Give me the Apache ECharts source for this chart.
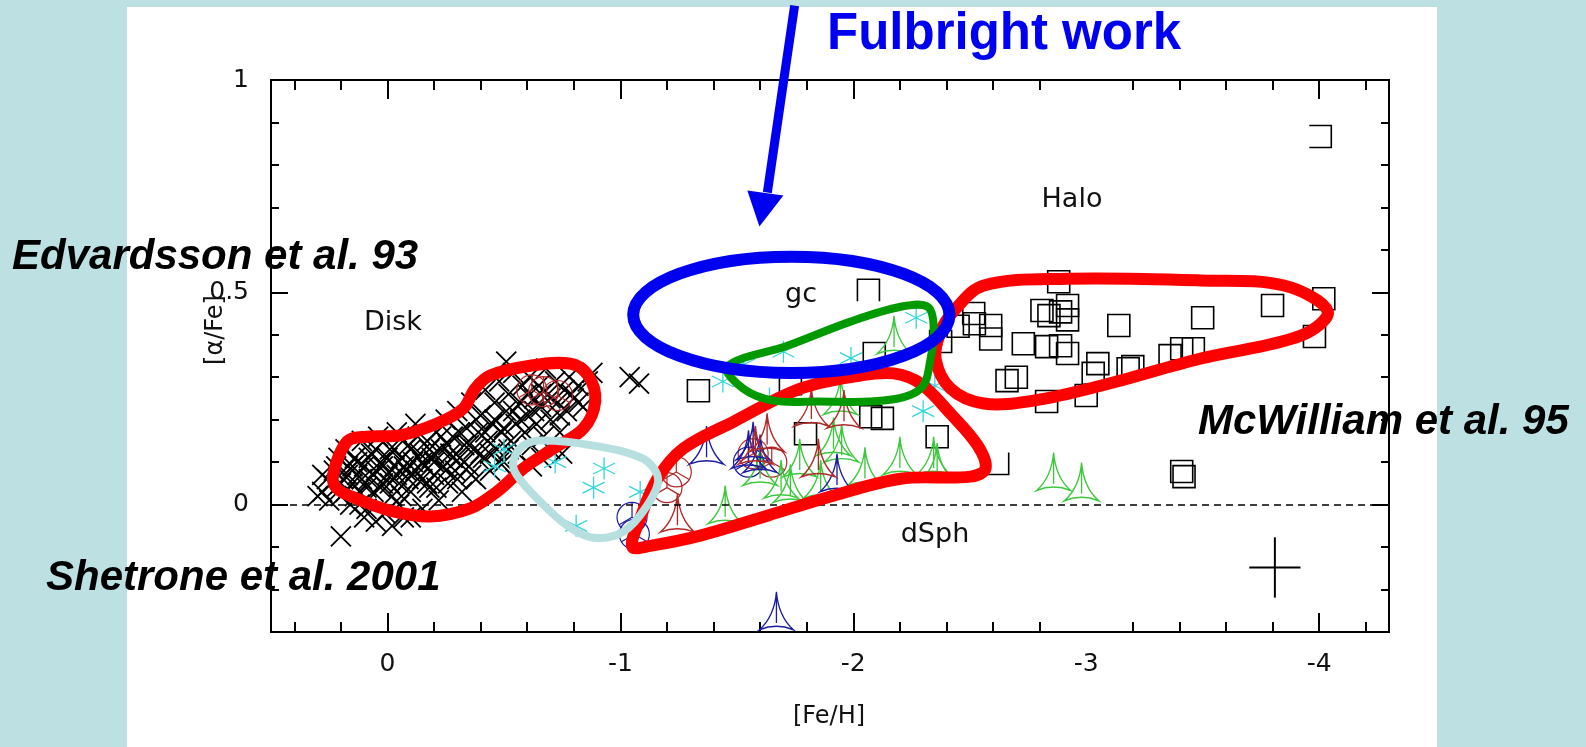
<!DOCTYPE html>
<html>
<head>
<meta charset="utf-8">
<title>[α/Fe] vs [Fe/H]</title>
<script src="https://cdn.jsdelivr.net/npm/echarts@6/dist/echarts.min.js"></script>
<style>
html, body { margin: 0; padding: 0; background: #bde0e2; }
#main { width: 1586px; height: 747px; }
</style>
</head>
<body>
<div id="main"></div>
<script>
// axis ticks and labels
var xLabels = [0, -1, -2, -3, -4];
var xMajorTicks = [0, -1, -2, -4];          // the original has no tick at -3
var xMinorTicks = [0.4, 0.2, -0.2, -0.4, -0.6, -0.8, -1.2, -1.4, -1.6, -1.8,
    -2.2, -2.4, -2.6, -2.8, -3.2, -3.4, -3.6, -3.8, -4.2];
var yLabels = [1, 0.5, 0];
var yMajorTicks = [1, 0.5, 0];
var yMinorTicks = [0.9, 0.8, 0.7, 0.6, 0.4, 0.3, 0.2, 0.1, -0.1, -0.2];

// disk stars (black crosses)
var diskStars = [
    [0.28,0.03],[0.26,0.06],[0.25,0.01],[0.23,0.08],[0.22,0.04],[0.21,0.11],[0.2,0.02],[0.19,0.06],
    [0.18,0.13],[0.17,0.09],[0.16,0.0],[0.15,0.05],[0.14,0.11],[0.13,0.07],[0.12,0.03],[0.11,0.15],
    [0.1,0.09],[0.09,-0.01],[0.08,0.06],[0.07,0.12],[0.06,0.03],[0.05,0.08],[0.04,0.16],[0.03,0.1],
    [0.02,0.05],[0.01,-0.02],[0.0,0.07],[-0.01,0.13],[-0.02,0.02],[-0.03,0.09],[-0.04,0.17],[-0.05,0.05],
    [-0.06,0.11],[-0.07,-0.03],[-0.08,0.08],[-0.09,0.14],[-0.1,0.03],[-0.11,0.1],[-0.12,0.19],[-0.13,0.06],
    [-0.14,0.12],[-0.15,-0.01],[-0.16,0.09],[-0.17,0.15],[-0.18,0.04],[-0.19,0.11],[-0.2,0.07],[-0.21,0.17],
    [-0.22,0.01],[-0.23,0.13],[-0.24,0.09],[-0.25,0.2],[-0.26,0.05],[-0.27,0.12],[-0.28,0.16],[-0.29,0.08],
    [-0.3,0.22],[-0.31,0.11],[-0.32,0.03],[-0.33,0.14],[-0.34,0.18],[-0.35,0.09],[-0.36,0.24],[-0.37,0.13],
    [-0.38,0.06],[-0.39,0.17],[-0.4,0.21],[-0.41,0.11],[-0.42,0.27],[-0.43,0.15],[-0.44,0.08],[-0.45,0.19],
    [-0.46,0.24],[-0.47,0.13],[-0.48,0.29],[-0.49,0.17],[-0.5,0.1],[-0.51,0.22],[-0.52,0.26],[-0.53,0.15],
    [-0.54,0.31],[-0.55,0.19],[-0.56,0.12],[-0.57,0.24],[-0.58,0.28],[-0.59,0.17],[-0.6,0.21],[-0.61,0.3],
    [-0.62,0.14],[-0.63,0.25],[-0.64,0.19],[-0.65,0.28],[-0.66,0.23],[-0.67,0.16],[-0.68,0.32],[-0.69,0.26],
    [-0.7,0.2],[-0.72,0.29],[-0.73,0.24],[-0.74,0.17],[-0.76,0.27],[-0.77,0.22],[-0.78,0.3],[-0.8,0.25],
    [-0.82,0.28],[-0.84,0.23],[-0.86,0.29],[-0.7,0.13],[-0.62,0.09],[-0.55,0.06],[-0.75,0.12],[-0.66,0.11],
    [0.2,-0.075],[-0.51,0.337],[-0.88,0.31],[-1.04,0.3],[-1.08,0.285],[0.05,-0.04],[-0.02,-0.05],
    [-0.1,-0.03],[0.1,-0.03],[0.3,0.02],[0.28,0.07],[0.12,0.0],[-0.05,0.0],[-0.2,0.12],[-0.15,0.06],
    [0.24,0.05],[0.22,0.09],[0.2,0.05],[0.18,0.03],[0.17,0.07],[0.15,0.09],[0.14,0.02],[0.13,0.1],
    [0.11,0.06],[0.09,0.04],[0.08,0.11],[0.06,0.07],[0.05,0.13],[0.03,0.04],[0.02,0.09],[0.0,0.11],
    [-0.01,0.05],[-0.03,0.13],[-0.04,0.07],[-0.06,0.02],[-0.07,0.09],[-0.09,0.06],[-0.1,0.13],[-0.12,0.08],
    [-0.13,0.16],[-0.15,0.1],[-0.17,0.05],[-0.18,0.13],[-0.2,0.1],[-0.21,0.04],[-0.23,0.16],[-0.25,0.08],
    [-0.26,0.14],[-0.28,0.11],[-0.3,0.06],[-0.31,0.17],[-0.33,0.1],[-0.35,0.14],[-0.36,0.07],[-0.38,0.2],
    [-0.4,0.12],[-0.42,0.17],[-0.44,0.12],[-0.46,0.2],[-0.48,0.1],[-0.5,0.18],[-0.52,0.13],[-0.54,0.22],
    [-0.57,0.2],[-0.6,0.26],[-0.63,0.22],[-0.66,0.26],[-0.7,0.25],[-0.74,0.21],[-0.79,0.26],[-0.82,0.24]
];

// halo giants (open squares)
var haloStars = [
    [-2.882,0.525],[-2.517,0.45],[-2.52,0.426],[-2.59,0.422],[-2.59,0.39],[-2.81,0.457],[-2.84,0.445],
    [-2.89,0.454],[-2.92,0.469],[-2.92,0.435],[-2.73,0.379],[-2.83,0.372],[-2.89,0.374],[-2.92,0.356],
    [-3.05,0.332],[-3.03,0.309],[-3.18,0.32],[-3.2,0.325],[-3.36,0.351],[-3.41,0.367],[-3.46,0.367],
    [-3.14,0.422],[-3.5,0.44],[-3.8,0.469],[-4.02,0.485],[-3.98,0.396],[-2.66,0.292],[-2.7,0.3],
    [-2.83,0.243],[-3.0,0.257],[-3.41,0.078],[-3.42,0.066],[-2.36,0.16],[-1.335,0.268],[-1.73,0.285],
    [-2.09,0.356],[-2.075,0.207],[-2.125,0.203],[-1.795,0.167],[-2.375,0.384],[-2.45,0.42]
];
var haloCapped = [[-2.065,0.505]];
var haloRightOpen = [[-4.005,0.867]];
var haloCorner = [[-2.62,0.097]];

// globular cluster / other stars (cyan asterisks)
var clusterStars = [
    [-0.46,0.09],[-0.5,0.13],[-0.72,0.1],[-0.93,0.085],[-0.885,0.04],[-0.81,-0.05],[-1.085,0.03],
    [-1.44,0.29],[-1.64,0.25],[-1.7,0.36],[-1.99,0.345],[-2.27,0.44],[-2.35,0.28],[-2.3,0.22],[-1.53,0.33]
];

// dSph stars
var dsphGreen = [
    [-2.175,0.40],[-1.945,0.257],[-1.915,0.16],[-1.95,0.145],[-2.2,0.115],[-2.345,0.115],[-2.36,0.1],
    [-1.86,0.06],[-1.77,0.11],[-1.73,0.05],[-1.45,0.0],[-1.69,0.06],[-2.86,0.078],[-2.98,0.054],
    [-2.05,0.09],[-1.6,0.09]
];
var dsphBlue = [[-1.37,0.14],[-1.57,0.15],[-1.55,0.13],[-1.93,0.075],[-1.67,-0.25],[-1.6,0.12]];
var dsphRed = [[-1.245,-0.02],[-1.58,0.14],[-1.96,0.225],[-1.82,0.23],[-1.63,0.17],[-1.85,0.11]];
var redCircles = [[-0.67,0.266],[-0.73,0.257],[-0.62,0.27],[-1.24,0.077],[-1.57,0.12],[-1.65,0.1],[-1.2,0.04]];
var blueCircles = [[-1.06,-0.07],[-1.55,0.1],[-1.05,-0.03]];

// typical error: [Fe/H], [a/Fe], error in [Fe/H], error in [a/Fe]
var errorBars = [[-3.81, -0.148, 0.11, 0.071]];

// hand-drawn outlines
var edvardssonOutline = [[0.234,0.068],[0.174,0.148],[0.088,0.16],[-0.054,0.163],[-0.213,0.191],
    [-0.325,0.226],[-0.376,0.273],[-0.441,0.304],[-0.613,0.327],[-0.785,0.332],[-0.862,0.304],
    [-0.892,0.243],[-0.841,0.179],[-0.712,0.132],[-0.583,0.085],[-0.471,0.031],[-0.355,-0.009],
    [-0.183,-0.028],[-0.011,-0.014],[0.131,0.014],[0.217,0.038]];
var shetroneOutline = [[-0.54,0.101],[-0.583,0.139],[-0.668,0.151],[-0.883,0.139],[-1.098,0.108],
    [-1.162,0.061],[-1.115,-0.002],[-1.012,-0.064],[-0.883,-0.078],[-0.771,-0.049],[-0.656,0.007],
    [-0.557,0.068]];
var dsphOutline = [[-1.051,-0.099],[-1.085,-0.033],[-1.159,0.061],[-1.27,0.132],[-1.485,0.195],
    [-1.773,0.273],[-2.031,0.304],[-2.173,0.309],[-2.289,0.285],[-2.418,0.214],[-2.534,0.139],
    [-2.568,0.085],[-2.504,0.066],[-2.203,0.061],[-1.914,0.021],[-1.631,-0.026],[-1.343,-0.073],
    [-1.128,-0.097]];
var haloOutline = [[-2.43,0.455],[-2.56,0.516],[-2.921,0.532],[-3.492,0.528],[-3.849,0.516],
    [-4.037,0.455],[-3.922,0.398],[-3.492,0.344],[-3.062,0.28],[-2.774,0.245],[-2.56,0.238],
    [-2.418,0.273],[-2.353,0.344],[-2.375,0.407]];
var gcOutline = [[-1.459,0.325],[-1.717,0.374],[-1.988,0.431],[-2.203,0.466],[-2.319,0.466],
    [-2.345,0.422],[-2.332,0.344],[-2.289,0.273],[-2.13,0.245],[-1.846,0.243],[-1.657,0.245],
    [-1.528,0.273]];
var fulbrightCenter = [-1.734, 0.447];
var fulbrightRadius = [0.679, 0.137];
var arrowShaft = [[-1.748, 1.175], [-1.631, 0.735]];
var arrowHead = [[-1.545, 0.74], [-1.597, 0.655], [-1.70, 0.728]];

var FONT = 'DejaVu Sans';

var crossPath = 'path://M0,0L10,10M10,0L0,10';
var asteriskPath = 'path://M5,0L5,10M0.7,2.5L9.3,7.5M0.7,7.5L9.3,2.5';
var triPath = 'path://M5,0Q5.6,6.5 10,10Q5,8.2 0,10Q4.4,6.5 5,0ZM5,0L5,8.2';
var spokePath = 'path://M0,5A5,5 0 1,1 10,5A5,5 0 1,1 0,5ZM5,5L5,0M5,5L0.7,7.5M5,5L9.3,7.5';

function xAxisCfg(pos, ticks, len, labels) {
    return {
        type: 'value', position: pos, min: -4.3, max: 0.5, inverse: true,
        splitLine: { show: false },
        axisLine: { show: true, onZero: false, lineStyle: { color: '#000', width: 2 } },
        axisTick: { show: true, inside: true, length: len, customValues: ticks,
            lineStyle: { color: '#000', width: 2 } },
        axisLabel: labels ? { show: true, customValues: labels, margin: 20,
            fontFamily: FONT, fontSize: 25, color: '#111' } : { show: false }
    };
}
function yAxisCfg(pos, ticks, len, labels) {
    return {
        type: 'value', position: pos, min: -0.3, max: 1,
        splitLine: { show: false },
        axisLine: { show: true, onZero: false, lineStyle: { color: '#000', width: 2 } },
        axisTick: { show: true, inside: true, length: len, customValues: ticks,
            lineStyle: { color: '#000', width: 2 } },
        axisLabel: labels ? { show: true, customValues: labels, margin: 22,
            fontFamily: FONT, fontSize: 25, color: '#111' } : { show: false }
    };
}

function scatter(data, symbol, size, color, width) {
    return {
        type: 'scatter', data: data, symbol: symbol, symbolSize: size, z: 2,
        itemStyle: { color: 'none', borderColor: color, borderWidth: width, opacity: 1 }
    };
}

function outline(points, color, width) {
    return {
        type: 'custom', data: [points[0]], z: 5, silent: true,
        renderItem: function (params, api) {
            return {
                type: 'polygon',
                shape: { points: points.map(function (p) { return api.coord(p); }), smooth: 0.35 },
                style: { fill: 'none', stroke: color, lineWidth: width }
            };
        }
    };
}

var zeroLine = scatter(diskStars, crossPath, 20, '#000', 1.8);
zeroLine.markLine = {
    silent: true, symbol: ['none', 'none'], label: { show: false },
    lineStyle: { color: '#000', width: 1.5, type: [7, 5] },
    data: [{ yAxis: 0 }]
};

function label(text, x, y, size) {
    return { type: 'text', x: x, y: y, z: 20,
        style: { text: text, font: size + 'px "DejaVu Sans"', fill: '#111', align: 'center', verticalAlign: 'middle' } };
}
function note(text, x, y) {
    return { type: 'text', x: x, y: y, z: 30,
        style: { text: text, font: 'italic bold 42px "Liberation Sans"', fill: '#000', align: 'left', verticalAlign: 'middle' } };
}

var chart = echarts.init(document.getElementById('main'));
chart.setOption({
    backgroundColor: '#bde0e2',
    animation: false,
    grid: { left: 271, right: 197, top: 80, bottom: 115, containLabel: false },
    xAxis: [
        xAxisCfg('bottom', xMajorTicks, 19, xLabels),
        xAxisCfg('bottom', xMinorTicks, 10),
        xAxisCfg('top', xMajorTicks, 19),
        xAxisCfg('top', xMinorTicks, 10)
    ],
    yAxis: [
        yAxisCfg('left', yMajorTicks, 17, yLabels),
        yAxisCfg('left', yMinorTicks, 8),
        yAxisCfg('right', yMajorTicks, 17),
        yAxisCfg('right', yMinorTicks, 8)
    ],
    graphic: [
        { type: 'rect', z: -10, silent: true, shape: { x: 127, y: 7, width: 1310, height: 740 },
            style: { fill: '#fff' } },
        { type: 'text', x: 216, y: 330, rotation: Math.PI / 2, z: 20,
            style: { text: '[α/Fe]', font: '24px "DejaVu Sans"', fill: '#111',
                align: 'center', verticalAlign: 'middle' } },
        label('[Fe/H]', 829, 717, 24),
        label('Disk', 393, 323, 27),
        label('gc', 801, 295, 27),
        label('Halo', 1072, 200, 27),
        label('dSph', 935, 535, 27),
        { type: 'text', x: 827, y: 35, z: 30,
            style: { text: 'Fulbright work', font: 'bold 51px "Liberation Sans"', fill: '#0000f0',
                align: 'left', verticalAlign: 'middle' } },
        note('Edvardsson et al. 93', 12, 257),
        note('Shetrone et al. 2001', 46, 578),
        note('McWilliam et al. 95', 1198, 422)
    ],
    series: [
        zeroLine,
        scatter(clusterStars, asteriskPath, 22, '#33d6dc', 1.3),
        scatter(haloStars, 'rect', 22, '#000', 1.6),
        scatter(haloCapped, 'path://M0,10L0,0L10,0L10,10', 22, '#000', 1.6),
        scatter(haloRightOpen, 'path://M0,0L10,0L10,10L0,10', 22, '#000', 1.6),
        scatter(haloCorner, 'path://M10,0L10,10L0,10', 22, '#000', 1.6),
        scatter(redCircles, spokePath, 30, '#b02828', 1.2),
        scatter(blueCircles, spokePath, 30, '#1c1ca0', 1.2),
        scatter(dsphGreen, triPath, [34, 38], '#3cc83c', 1.4),
        scatter(dsphBlue, triPath, [34, 38], '#1c1ca0', 1.4),
        scatter(dsphRed, triPath, [34, 38], '#b02828', 1.4),
        {
            type: 'custom', data: errorBars, z: 3, silent: true,
            renderItem: function (params, api) {
                var x = api.value(0), y = api.value(1), dx = api.value(2), dy = api.value(3);
                var l = api.coord([x + dx, y]), r = api.coord([x - dx, y]);
                var t = api.coord([x, y + dy]), b = api.coord([x, y - dy]);
                var st = { stroke: '#000', lineWidth: 2 };
                return { type: 'group', children: [
                    { type: 'line', shape: { x1: l[0], y1: l[1], x2: r[0], y2: r[1] }, style: st },
                    { type: 'line', shape: { x1: t[0], y1: t[1], x2: b[0], y2: b[1] }, style: st }
                ] };
            }
        },
        outline(edvardssonOutline, '#ff0000', 12),
        outline(dsphOutline, '#ff0000', 12),
        outline(haloOutline, '#ff0000', 12),
        outline(shetroneOutline, '#b8dfe0', 8),
        outline(gcOutline, '#009a00', 8),
        {
            type: 'custom', data: [fulbrightCenter], z: 6, silent: true,
            renderItem: function (params, api) {
                var c = api.coord(fulbrightCenter);
                var s = api.size(fulbrightRadius);
                return { type: 'ellipse', shape: { cx: c[0], cy: c[1], rx: s[0], ry: s[1] },
                    style: { fill: 'none', stroke: '#0000f0', lineWidth: 12 } };
            }
        },
        {
            type: 'custom', data: [arrowShaft[0]], z: 6, silent: true, clip: false,
            renderItem: function (params, api) {
                var a = api.coord(arrowShaft[0]), b = api.coord(arrowShaft[1]);
                return { type: 'group', children: [
                    { type: 'line', shape: { x1: a[0], y1: a[1], x2: b[0], y2: b[1] },
                        style: { stroke: '#0000f0', lineWidth: 9 } },
                    { type: 'polygon', shape: { points: arrowHead.map(function (p) { return api.coord(p); }) },
                        style: { fill: '#0000f0' } }
                ] };
            }
        }
    ]
});
</script>
</body>
</html>
